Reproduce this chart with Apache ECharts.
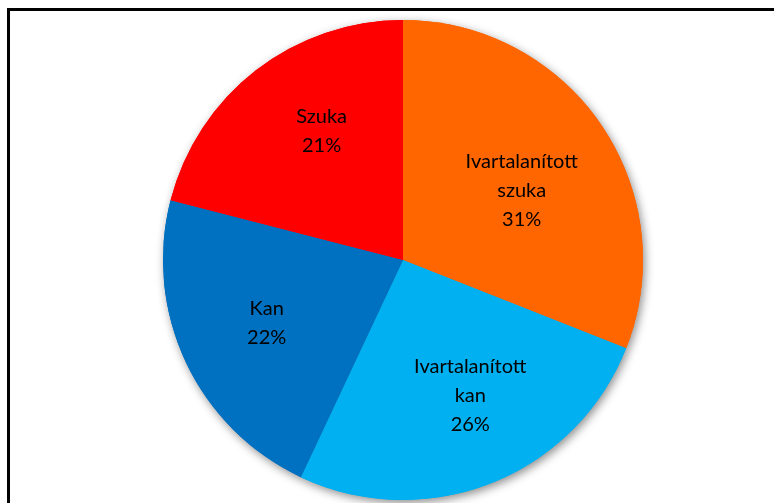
<!DOCTYPE html>
<html>
<head>
<meta charset="utf-8">
<script src="https://cdn.jsdelivr.net/npm/echarts@6/dist/echarts.min.js"></script>
<style>
  html, body { margin: 0; padding: 0; background: #fff; }
  #wrap { position: relative; width: 774px; height: 503px; overflow: hidden; }
  #chart { width: 774px; height: 503px; }
  #frame {
    position: absolute; left: 7px; top: 8px; width: 800px; height: 520px;
    border-left: 3px solid #000; border-top: 3px solid #000;
    pointer-events: none;
  }
</style>
</head>
<body>
<div id="wrap">
  <div id="chart"></div>
  <div id="frame"></div>
</div>
<script>
const categories = ['Ivartalanított\nszuka', 'Ivartalanított\nkan', 'Kan', 'Szuka']
const percents = [31, 26, 22, 21]
const colors = ['#FF6600', '#00B0F0', '#0070C0', '#FF0000']

// label nudges (px) so the text sits where the original has it
const labelShift = [[17, 0], [22, 21], [-25, 11], [-6, -32]]

const chart = echarts.init(document.getElementById('chart'))

const pieData = categories.map((name, i) => ({
  name: name,
  value: percents[i],
  itemStyle: { color: colors[i] },
}))

const base = {
  type: 'pie',
  center: [403, 260],
  radius: 240,
  startAngle: 90,
  clockwise: true,
  silent: true,
  data: pieData,
  labelLine: { show: false },
}

chart.setOption({
  animation: false,
  series: [
    // shadow layer underneath, so slices don't shade each other
    {
      ...base,
      z: 1,
      label: { show: false },
      itemStyle: {
        borderWidth: 0,
        shadowBlur: 10,
        shadowOffsetX: 2,
        shadowOffsetY: 3,
        shadowColor: 'rgba(0,0,0,0.45)',
      },
    },
    {
      ...base,
      z: 2,
      itemStyle: { borderWidth: 0 },
      label: {
        position: 'inside',
        formatter: '{b}\n{c}%',
        color: '#000',
        fontFamily: 'Lato',
        fontSize: 20,
        lineHeight: 29,
        align: 'center',
      },
      labelLayout: (p) => ({
        dx: labelShift[p.dataIndex][0],
        dy: labelShift[p.dataIndex][1],
      }),
    },
  ],
})
</script>
</body>
</html>
